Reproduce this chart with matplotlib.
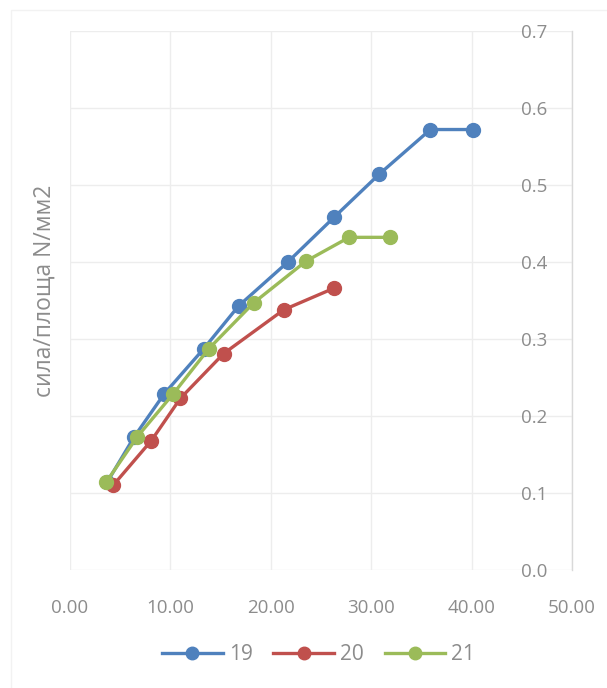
import matplotlib.pyplot as plt
from matplotlib.lines import Line2D
from matplotlib.patches import Rectangle

plt.rcParams['font.family'] = ['Open Sans', 'DejaVu Sans']

# series 19
x19 = [3.7, 6.4, 9.4, 13.3, 16.8, 21.7, 26.3, 30.8, 35.9, 40.1]
y19 = [0.114, 0.173, 0.229, 0.287, 0.343, 0.400, 0.458, 0.514, 0.572, 0.572]
# series 20
x20 = [4.3, 8.1, 11.0, 15.3, 21.3, 26.3]
y20 = [0.110, 0.168, 0.223, 0.281, 0.338, 0.366]
# series 21
x21 = [3.6, 6.7, 10.3, 13.8, 18.3, 23.5, 27.8, 31.9]
y21 = [0.114, 0.173, 0.229, 0.287, 0.347, 0.401, 0.432, 0.432]

series_names = ['19', '20', '21']
colors = ['#4F81BD', '#C0504D', '#9BBB59']
x_ticks = [0, 10, 20, 30, 40, 50]
y_ticks = [0.0, 0.1, 0.2, 0.3, 0.4, 0.5, 0.6, 0.7]

text_gray = '#8C8C8C'
grid_gray = '#EDEDED'

fig = plt.figure(figsize=(6.07, 6.88), dpi=100)
ax = fig.add_axes([0.1153, 0.1715, 0.8270, 0.7835])

for xs, ys, name, c in zip([x19, x20, x21], [y19, y20, y21], series_names, colors):
    ax.plot(xs, ys, color=c, lw=2.4, marker='o', markersize=10,
            markeredgecolor=c, markerfacecolor=c, label=name, zorder=3)

ax.set_xlim(0, 50)
ax.set_ylim(0, 0.7)
ax.set_xticks(x_ticks)
ax.set_xticklabels([f'{v:.2f}' for v in x_ticks])
ax.set_yticks(y_ticks)
ax.set_yticklabels([f'{v:.1f}' for v in y_ticks])

ax.grid(True, color=grid_gray, lw=1.0)
ax.set_axisbelow(True)
for side in ['top', 'left', 'bottom']:
    ax.spines[side].set_visible(False)
ax.spines['right'].set_color('#D9D9D9')
ax.spines['right'].set_linewidth(1.0)

ax.tick_params(axis='x', length=0, pad=21, labelsize=13.5, labelcolor=text_gray)
ax.tick_params(axis='y', left=False, labelleft=False, right=True,
               labelright=True, length=0, pad=-37, labelsize=13.5,
               labelcolor=text_gray)

fig.text(0.074, 0.578, 'сила/площа N/мм2', rotation=90, ha='center',
         va='center', fontsize=16.5, color=text_gray)

handles = [Line2D([0], [0], color=c, lw=2.4, marker='o', markersize=9)
           for c in colors]
leg = fig.legend(handles, series_names, loc='center',
                 bbox_to_anchor=(0.525, 0.048), ncol=3, frameon=False,
                 fontsize=15, handlelength=2.9, handletextpad=0.3,
                 columnspacing=1.0)
for t in leg.get_texts():
    t.set_color(text_gray)

# faint chart-area border
fig.patches.append(Rectangle((11 / 607, -0.1), 1.2, 1.1 - 10 / 688,
                             transform=fig.transFigure, fill=False,
                             edgecolor='#F2F2F2', lw=1.0))

fig.savefig('out.png', dpi=100)
